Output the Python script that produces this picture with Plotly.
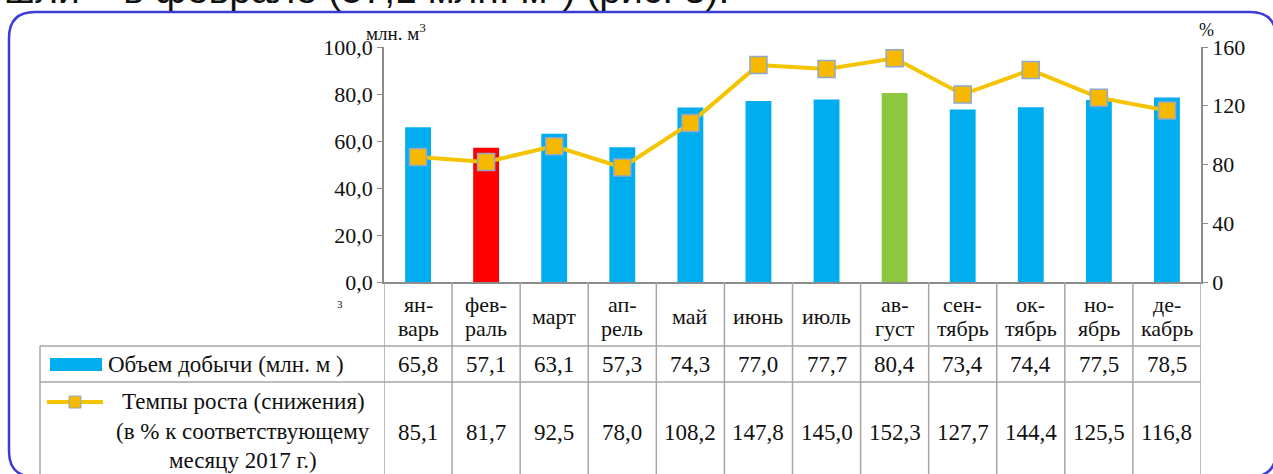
import plotly.graph_objects as go

# monthly data, 2018 (month names are hyphenated over two lines in the table)
months = [("ян-", "варь"), ("фев-", "раль"), ("март",), ("ап-", "рель"), ("май",),
          ("июнь",), ("июль",), ("ав-", "густ"), ("сен-", "тябрь"), ("ок-", "тябрь"),
          ("но-", "ябрь"), ("де-", "кабрь")]
volume = [65.8, 57.1, 63.1, 57.3, 74.3, 77.0, 77.7, 80.4, 73.4, 74.4, 77.5, 78.5]
growth = [85.1, 81.7, 92.5, 78.0, 108.2, 147.8, 145.0, 152.3, 127.7, 144.4, 125.5, 116.8]
left_ticks = [0, 20, 40, 60, 80, 100]
right_ticks = [0, 40, 80, 120, 160]

W, H = 1273, 474
L, R, T, B = 384, 1201, 47, 282   # plot area in pixels

BLUE = "#00aeef"
GOLD = "#f7b800"
LINE_GOLD = "#f5c400"
GRID = "#a6a6a6"
SERIF = "Liberation Serif"
FS = 23


def px(xp):
    return (xp - L) / (R - L)


def py(yp):
    return 1 - (yp - T) / (B - T)


def comma(v):
    return f"{v:.1f}".replace(".", ",")


def note(xx, yy, text, xref="paper", size=FS, **kw):
    d = dict(x=xx, y=yy, xref=xref, yref="paper", text=text, showarrow=False,
             xanchor="center", yanchor="middle", font=dict(size=size))
    d.update(kw)
    return d


x = list(range(len(months)))
bar_colors = [BLUE] * len(months)
bar_colors[1] = "#ff0000"
bar_colors[7] = "#8dc63f"

fig = go.Figure()
fig.add_trace(go.Bar(x=x, y=volume, marker_color=bar_colors, width=0.38,
                     marker_line_width=0, name="Объем добычи"))
fig.add_trace(go.Scatter(
    x=x, y=growth, yaxis="y2", mode="lines+markers", name="Темпы роста",
    line=dict(color=LINE_GOLD, width=4),
    marker=dict(symbol="square", size=17, color=GOLD,
                line=dict(color="#8fa8cc", width=1.5)),
))

shapes = []
annotations = []

# table grid
n = len(months)
for i in range(n + 1):
    shapes.append(dict(type="line", xref="x", yref="paper", x0=i - 0.5, x1=i - 0.5,
                       y0=py(B), y1=py(H + 5), line=dict(color=GRID, width=1.5)))
shapes.append(dict(type="line", xref="paper", yref="paper", x0=px(40), x1=px(40),
                   y0=py(346), y1=py(H + 5), line=dict(color=GRID, width=1.5)))
for yy in (346, 382):
    shapes.append(dict(type="line", xref="paper", yref="paper", x0=px(40), x1=1,
                       y0=py(yy), y1=py(yy), line=dict(color=GRID, width=1.5)))

# month headers and values
for i in range(n):
    name = months[i]
    if len(name) == 2:
        annotations.append(note(i, py(304), name[0], xref="x", size=22))
        annotations.append(note(i, py(328), name[1], xref="x", size=22))
    else:
        annotations.append(note(i, py(316), name[0], xref="x", size=22))
    annotations.append(note(i, py(364), comma(volume[i]), xref="x"))
    annotations.append(note(i, py(432), comma(growth[i]), xref="x"))

# legend column
shapes.append(dict(type="rect", xref="paper", yref="paper", x0=px(50), x1=px(102),
                   y0=py(358), y1=py(371), fillcolor=BLUE, line=dict(width=0)))
shapes.append(dict(type="line", xref="paper", yref="paper", x0=px(47), x1=px(103),
                   y0=py(402), y1=py(402), line=dict(color=LINE_GOLD, width=4)))
shapes.append(dict(type="rect", xref="paper", yref="paper", x0=px(69), x1=px(81),
                   y0=py(396), y1=py(408), fillcolor=GOLD,
                   line=dict(color="#8fa8cc", width=1)))
annotations.append(note(px(106), py(364), "Объем добычи (млн. м )", xanchor="left"))
legend_lines = ["Темпы роста (снижения)", "(в % к соответствующему", "месяцу 2017 г.)"]
for yy, line in zip((401, 431, 460), legend_lines):
    annotations.append(note(px(243), py(yy), line))
annotations.append(note(px(340), py(304), "3", size=11))

# axis units
annotations.append(note(px(364), py(32), "млн. м<sup>3</sup>", size=19, xanchor="left"))
annotations.append(note(px(1206), py(30), "%", size=18))

# cut-off line of the surrounding document text
annotations.append(note(px(2), py(13), "шли – в феврале (57,1 млн. м<sup>3</sup>) (рис. 3).",
                        xanchor="left", yanchor="bottom",
                        font=dict(size=39, family="Liberation Sans", color="#111")))

# rounded frame
x0, x1, y0, y1, r = 9, 1276, 12, 477, 26
path = (f"M {px(x0)},{py(y0 + r)} Q {px(x0)},{py(y0)} {px(x0 + r)},{py(y0)} "
        f"L {px(x1 - r)},{py(y0)} Q {px(x1)},{py(y0)} {px(x1)},{py(y0 + r)} "
        f"L {px(x1)},{py(y1 - r)} Q {px(x1)},{py(y1)} {px(x1 - r)},{py(y1)} "
        f"L {px(x0 + r)},{py(y1)} Q {px(x0)},{py(y1)} {px(x0)},{py(y1 - r)} Z")
shapes.append(dict(type="path", xref="paper", yref="paper", path=path,
                   line=dict(color="#3c3cd8", width=2.5)))

axis_style = dict(ticks="outside", ticklen=5, tickcolor="#8c8c8c", showgrid=False,
                  zeroline=False, showline=True, linecolor="#8c8c8c", linewidth=1.5,
                  tickfont=dict(size=22))

fig.update_layout(
    width=W, height=H,
    margin=dict(l=L, r=W - R, t=T, b=H - B),
    paper_bgcolor="white", plot_bgcolor="white",
    font=dict(family=SERIF, size=FS, color="#111"),
    showlegend=False,
    xaxis=dict(range=[-0.5, n - 0.5], showticklabels=False, ticks="",
               showgrid=False, zeroline=False, showline=True, linecolor="#8c8c8c",
               linewidth=1.5),
    yaxis=dict(range=[0, 100], tickvals=left_ticks,
               ticktext=[comma(v) for v in left_ticks], **axis_style),
    yaxis2=dict(range=[0, 160], tickvals=right_ticks, overlaying="y", side="right",
                **axis_style),
    shapes=shapes,
    annotations=annotations,
)

fig.write_html("out.html", config={"displayModeBar": False},
               post_script="document.body.style.margin = '0';")
